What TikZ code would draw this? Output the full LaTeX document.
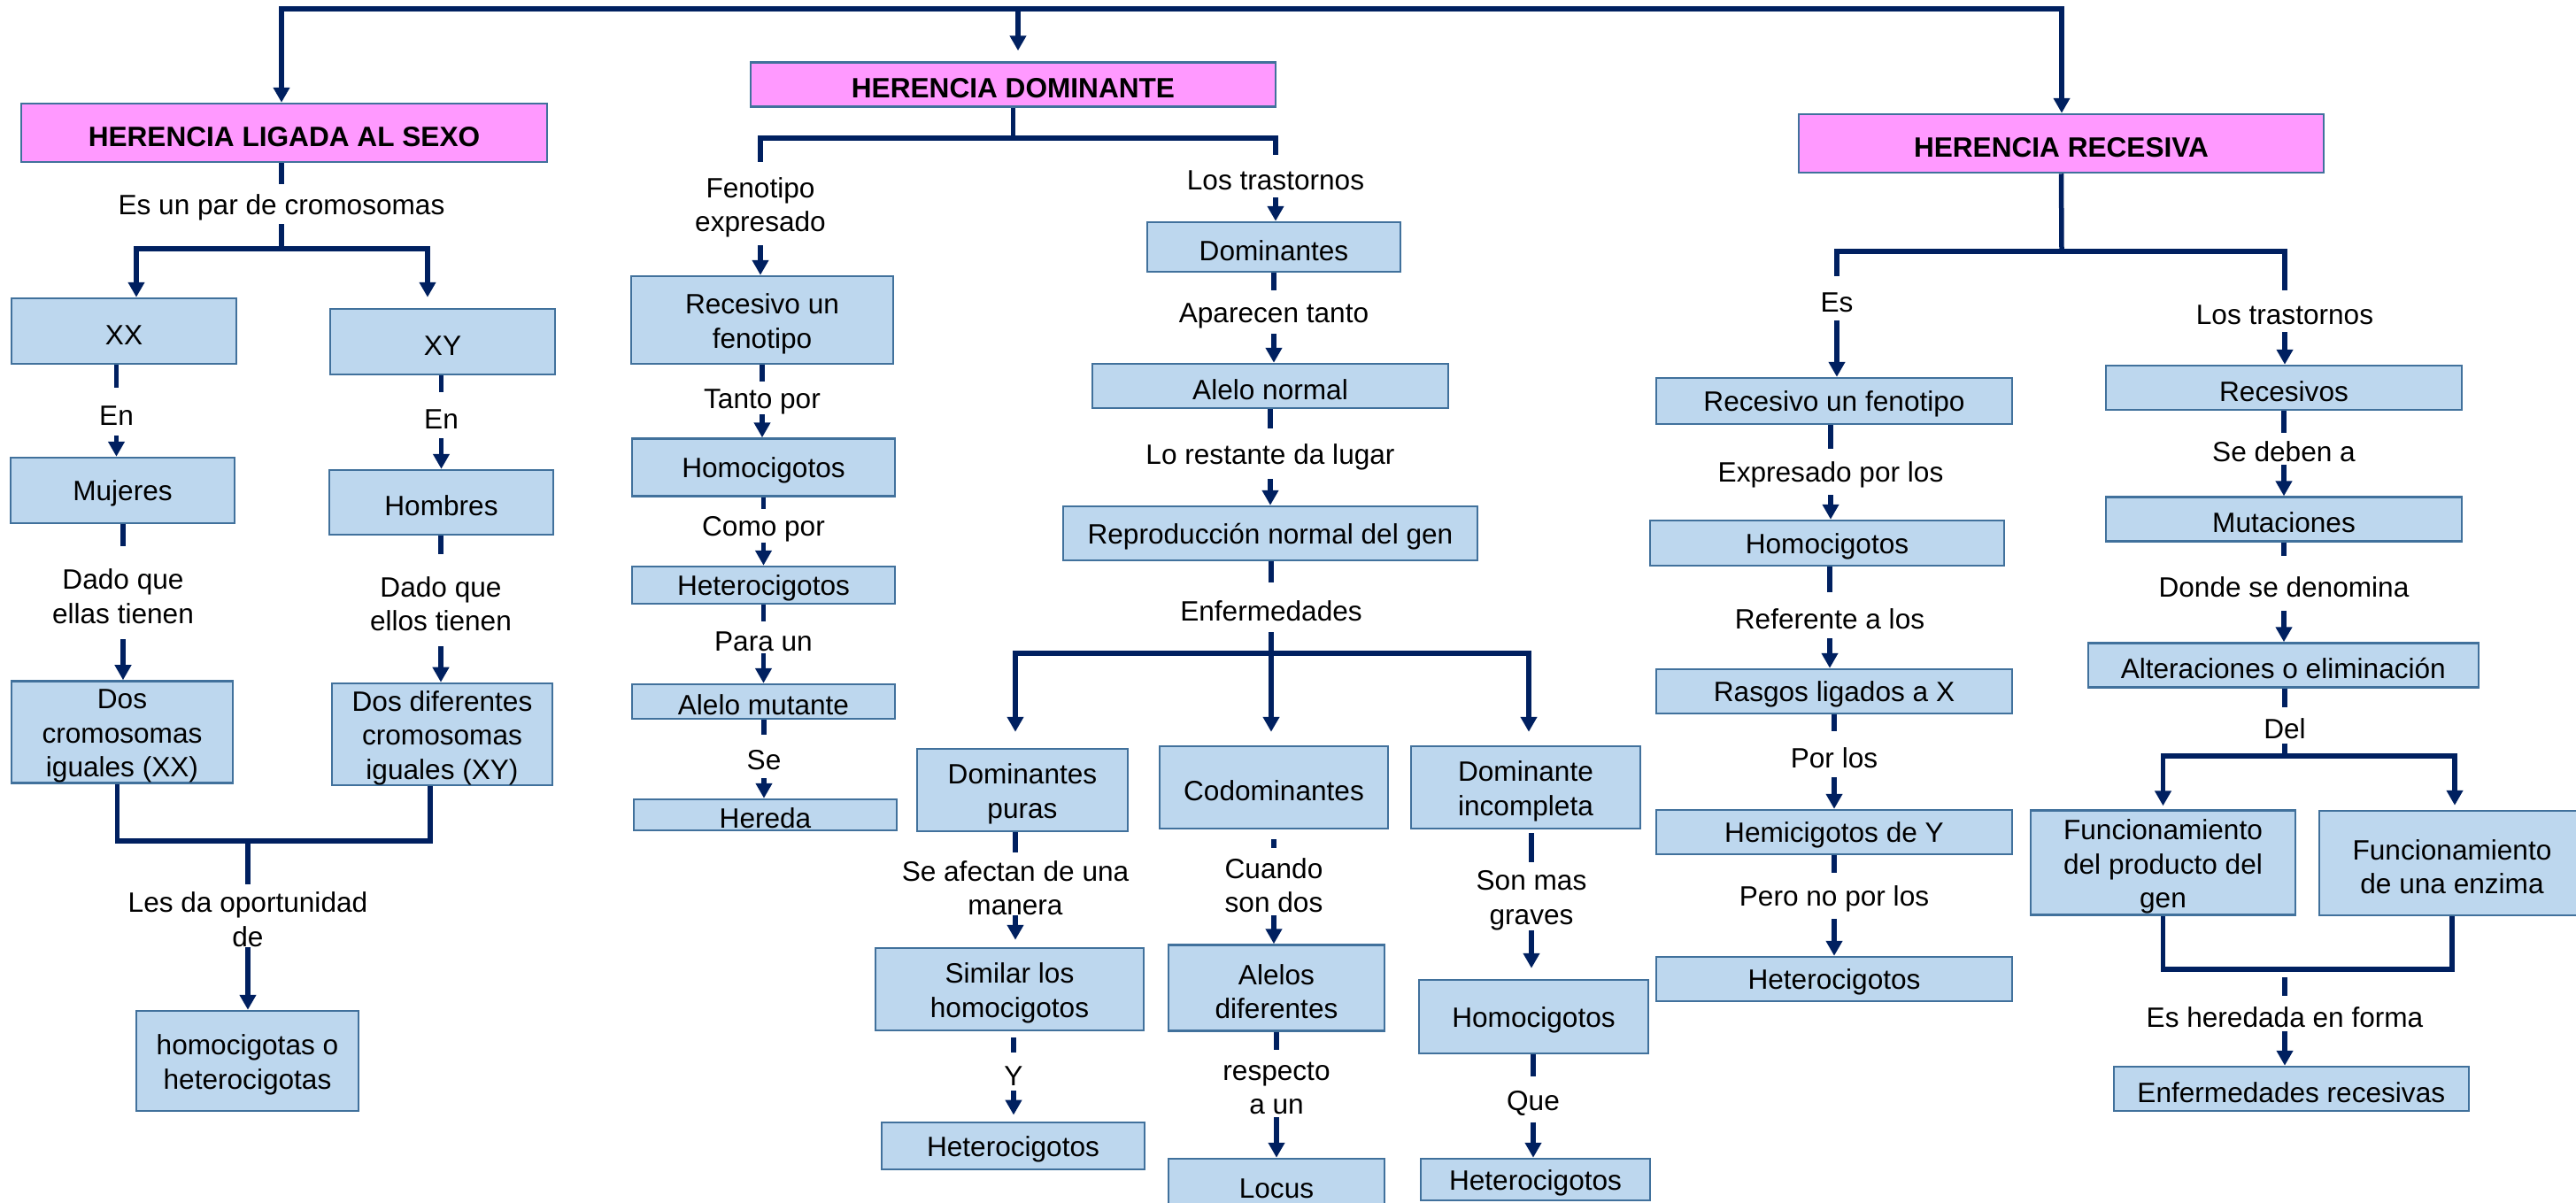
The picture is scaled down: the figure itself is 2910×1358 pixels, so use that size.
\documentclass[tikz,border=0pt]{standalone}
\usepackage{fontspec}
\setmainfont{Liberation Sans}
\usetikzlibrary{arrows.meta}
\definecolor{boxfill}{HTML}{BDD7EE}
\definecolor{boxline}{HTML}{41719C}
\definecolor{pinkfill}{HTML}{FF99FF}
\definecolor{navy}{HTML}{002060}
\newcommand\dgfont{\fontsize{31.6pt}{38.5pt}\selectfont}
\newcommand\dgstrut{\rule{0pt}{30.5pt}}
\newcommand\mlstrut{\rule{0pt}{31.5pt}}
\tikzset{
 box/.style={draw=boxline, fill=boxfill, line width=2.5pt, inner sep=0pt, align=center, font=\dgfont, execute at begin node=\dgstrut},
 titlebox/.style={box, fill=pinkfill, font=\dgfont\bfseries},
 lbl/.style={inner sep=0pt, align=center, font=\dgfont, execute at begin node=\dgstrut},
 conn/.style={draw=navy, line width=5.5pt},
 arr/.style={conn, -{Triangle[width=18pt,length=17pt]}},
}
% #1 upper box, #2 label, #3 lower box, #4 gap below upper box, #5 gap above lower box
\newcommand\chain[5]{%
 \draw[conn, shorten <=#4pt] (#2.north |- #1.south) -- (#2.north);
 \draw[arr, shorten >=#5pt] (#2.south) -- (#2.south |- #3.north);}
\begin{document}
\begin{tikzpicture}[x=1pt, y=-1pt]
\useasboundingbox (0,0) rectangle (2910,1358);
\fill[white] (0,0) rectangle (2910,1358);
\clip (0,0) rectangle (2910,1358);

% ---------------- boxes: left ----------------
\node[titlebox, minimum width=594pt, minimum height=66pt] (HLS) at (321,150) {HERENCIA LIGADA AL SEXO};
\node[box, minimum width=254pt, minimum height=74pt] (XX) at (140,374) {XX};
\node[box, minimum width=254pt, minimum height=74pt] (XY) at (500,386) {XY};
\node[box, minimum width=253pt, minimum height=74pt] (MUJ) at (138.5,554) {Mujeres};
\node[box, minimum width=253pt, minimum height=73pt] (HOM) at (498.5,567.5) {Hombres};
\node[box, minimum width=250pt, minimum height=112pt] (DXX) at (138,827) {\mlstrut Dos\\cromosomas\\iguales (XX)};
\node[box, minimum width=249pt, minimum height=113pt] (DXY) at (499.5,829.5) {\mlstrut Dos diferentes\\cromosomas\\iguales (XY)};
\node[box, minimum width=251pt, minimum height=113pt] (HH) at (279.5,1198.5) {\mlstrut homocigotas o\\heterocigotas};

\node[lbl, minimum height=45pt] (L1) at (318,230.5) {Es un par de cromosomas};
\node[lbl, minimum height=54pt] (L2) at (131.5,465) {En};
\node[lbl, minimum height=52pt] (L3) at (498.5,469) {En};
\node[lbl, minimum height=105pt] (L4) at (139,669.5) {\mlstrut Dado que\\ellas tienen};
\node[lbl, minimum height=104pt] (L5) at (498,678) {\mlstrut Dado que\\ellos tienen};
\node[lbl, minimum height=71pt] (L6) at (280,1034.5) {\mlstrut Les da oportunidad\\de};

% ---------------- boxes: middle ----------------
\node[titlebox, minimum width=593pt, minimum height=50pt] (HD) at (1144.5,95.5) {HERENCIA DOMINANTE};
\node[box, minimum width=296pt, minimum height=99pt] (RF1) at (861,361.5) {\mlstrut Recesivo un\\fenotipo};
\node[box, minimum width=297pt, minimum height=65pt] (HO1) at (862.5,528) {Homocigotos};
\node[box, minimum width=297pt, minimum height=42pt] (HE1) at (862.5,661) {Heterocigotos};
\node[box, minimum width=297pt, minimum height=39pt] (AM) at (862.5,792.5) {Alelo mutante};
\node[box, minimum width=297pt, minimum height=35pt] (HER) at (864.5,920.5) {Hereda};
\node[box, minimum width=286pt, minimum height=56pt] (DOM) at (1439,279) {Dominantes};
\node[box, minimum width=402pt, minimum height=50pt] (AN) at (1435,436) {Alelo normal};
\node[box, minimum width=468pt, minimum height=61pt] (REP) at (1435,602.5) {Reproducción normal del gen};
\node[box, minimum width=238pt, minimum height=93pt] (DP) at (1155,892.5) {\mlstrut Dominantes\\puras};
\node[box, minimum width=258pt, minimum height=93pt] (COD) at (1439,889.5) {Codominantes};
\node[box, minimum width=259pt, minimum height=93pt] (DI) at (1723.5,889.5) {\mlstrut Dominante\\incompleta};
\node[box, minimum width=303pt, minimum height=93pt] (SIM) at (1140.5,1117.5) {\mlstrut Similar los\\homocigotos};
\node[box, minimum width=297pt, minimum height=53pt] (HE2) at (1144.5,1294.3) {Heterocigotos};
\node[box, minimum width=244pt, minimum height=97pt] (AD) at (1442,1116) {\mlstrut Alelos\\diferentes};
\node[box, minimum width=244pt, minimum height=58pt] (LOC) at (1442,1338) {Locus};
\node[box, minimum width=259pt, minimum height=83pt] (HO3) at (1732.5,1148.5) {Homocigotos};
\node[box, minimum width=259pt, minimum height=47pt] (HE3) at (1734.5,1332.5) {Heterocigotos};

\node[lbl, minimum height=94pt] (M1) at (859,230) {\mlstrut Fenotipo\\expresado};
\node[lbl, minimum height=37pt] (M2) at (861,449.5) {Tanto por};
\node[lbl, minimum height=36pt] (M3) at (862.5,594) {Como por};
\node[lbl, minimum height=36pt] (M4) at (862.5,720) {Para un};
\node[lbl, minimum height=49pt] (M5) at (863,854.5) {Se};
\node[lbl, minimum height=48pt] (M6) at (1441,199) {Los trastornos};
\node[lbl, minimum height=49pt] (M7) at (1439,352.5) {Aparecen tanto};
\node[lbl, minimum height=57pt] (M8) at (1435,512.5) {Lo restante da lugar};
\node[lbl, minimum height=56.5pt] (M9) at (1436,686) {Enfermedades};
\node[lbl, minimum height=56.5pt] (M10) at (1147,998.75) {\mlstrut Se afectan de una\\manera};
\node[lbl, minimum height=42.5pt] (M11) at (1145,1210.75) {Y};
\node[lbl, minimum height=76pt] (M12) at (1439,996) {\mlstrut Cuando\\son dos};
\node[lbl, minimum height=76pt] (M13) at (1442,1224) {\mlstrut respecto\\a un};
\node[lbl, minimum height=77pt] (M14) at (1730,1012.5) {\mlstrut Son mas\\graves};
\node[lbl, minimum height=51pt] (M15) at (1732,1242) {Que};

% ---------------- boxes: right ----------------
\node[titlebox, minimum width=593pt, minimum height=66pt] (HR) at (2328.5,162) {HERENCIA RECESIVA};
\node[box, minimum width=402pt, minimum height=52pt] (RF2) at (2072,453) {Recesivo un fenotipo};
\node[box, minimum width=400pt, minimum height=51pt] (HO4) at (2064,613.5) {Homocigotos};
\node[box, minimum width=402pt, minimum height=50pt] (RAS) at (2072,781) {Rasgos ligados a X};
\node[box, minimum width=402pt, minimum height=50pt] (HEM) at (2072,940) {Hemicigotos de Y};
\node[box, minimum width=402pt, minimum height=50pt] (HE4) at (2072,1106) {Heterocigotos};
\node[box, minimum width=402pt, minimum height=50pt] (REC) at (2580,438) {Recesivos};
\node[box, minimum width=402pt, minimum height=50pt] (MUT) at (2580,586.6) {Mutaciones};
\node[box, minimum width=441pt, minimum height=50pt] (ALT) at (2579.3,751.5) {Alteraciones o eliminación};
\node[box, minimum width=299pt, minimum height=118pt] (FP) at (2443.5,974.6) {\mlstrut Funcionamiento\\del producto del\\gen};
\node[box, minimum width=300pt, minimum height=118pt] (FE) at (2770,975) {\mlstrut Funcionamiento\\de una enzima};
\node[box, minimum width=401pt, minimum height=50pt] (ER) at (2588.3,1230) {Enfermedades recesivas};

\node[lbl, minimum height=49pt] (R1) at (2075,337) {Es};
\node[lbl, minimum height=47pt] (R2) at (2581,351.5) {Los trastornos};
\node[lbl, minimum height=52pt] (R3) at (2068,533) {Expresado por los};
\node[lbl, minimum height=51.4pt] (R4) at (2067,695.3) {Referente a los};
\node[lbl, minimum height=52pt] (R5) at (2072,852) {Por los};
\node[lbl, minimum height=52pt] (R6) at (2072,1012) {Pero no por los};
\node[lbl, minimum height=36pt] (R7) at (2580,506.7) {Se deben a};
\node[lbl, minimum height=61pt] (R8) at (2580,659) {Donde se denomina};
\node[lbl, minimum height=40.6pt] (R9) at (2581,819.3) {Del};
\node[lbl, minimum height=39.7pt] (R10) at (2581,1145) {Es heredada en forma};

% ---------------- top bus ----------------
\coordinate (BL) at (318,10);
\coordinate (BM) at (1150,10);
\coordinate (BR) at (2329,10);
\draw[arr] (BR) -- (BL) -- (BL |- HLS.north);
\draw[arr] (BL) -- (BR) -- (BR |- HR.north);
\draw[arr, shorten >=12pt] (BM) -- (BM |- HD.north);

% ---------------- left connectors ----------------
\draw[conn] (L1.north |- HLS.south) -- (L1.north);
\coordinate (J1) at (318,281);
\draw[conn] (L1.south) -- (J1);
\coordinate (xxt) at ([xshift=14pt]XX.north);
\coordinate (xyt) at ([xshift=-17pt]XY.north);
\draw[arr] (J1) -| (xxt);
\draw[arr, shorten >=12pt] (J1) -| (xyt);
\chain{XX}{L2}{MUJ}{0}{0}
\chain{XY}{L3}{HOM}{0}{0}
\chain{MUJ}{L4}{DXX}{0}{0}
\chain{HOM}{L5}{DXY}{0}{0}
\coordinate (J2) at (280,950);
\coordinate (dxxb) at ([xshift=-5.5pt]DXX.south);
\coordinate (dxyb) at ([xshift=-13.5pt]DXY.south);
\draw[conn] (dxxb) |- (dxyb |- J2) -- (dxyb);
\draw[conn] (J2) -- (L6.north);
\draw[arr] (L6.south) -- (L6.south |- HH.north);

% ---------------- middle connectors ----------------
\coordinate (J3) at (1144.5,156);
\draw[conn] (HD.south) -- (J3);
\draw[conn] (J3) -| (M1.north);
\draw[conn] (J3) -| (M6.north);
\draw[arr] (M1.south) -- (M1.south |- RF1.north);
\draw[arr] (M6.south) -- (M6.south |- DOM.north);
\chain{RF1}{M2}{HO1}{0}{0}
\chain{HO1}{M3}{HE1}{0}{0}
\chain{HE1}{M4}{AM}{0}{0}
\chain{AM}{M5}{HER}{0}{0}
\chain{DOM}{M7}{AN}{0}{0}
\chain{AN}{M8}{REP}{0}{0}
\draw[conn] (M9.north |- REP.south) -- (M9.north);
\coordinate (J4) at (1436,738);
\draw[conn] (M9.south) -- (J4);
\coordinate (dpt) at ([xshift=-8pt]DP.north);
\coordinate (dit) at ([xshift=3.5pt]DI.north);
\draw[arr, shorten >=18pt] (J4) -| (dpt);
\draw[arr, shorten >=15pt] (J4) -- (J4 |- COD.north);
\draw[arr, shorten >=15pt] (J4) -| (dit);
\chain{DP}{M10}{SIM}{0}{8}
\chain{SIM}{M11}{HE2}{7}{7}
\chain{COD}{M12}{AD}{11}{0}
\chain{AD}{M13}{LOC}{0}{0}
\chain{DI}{M14}{HO3}{4}{12}
\chain{HO3}{M15}{HE3}{0}{0}

% ---------------- right connectors ----------------
\coordinate (J6) at (2329,284);
\draw[conn] (HR.south) -- (J6);
\draw[conn] (J6) -| (R1.north);
\draw[conn] (J6) -| (R2.north);
\draw[arr] (R1.south) -- (R1.south |- RF2.north);
\draw[arr] (R2.south) -- (R2.south |- REC.north);
\chain{RF2}{R3}{HO4}{0}{0}
\chain{HO4}{R4}{RAS}{0}{0}
\chain{RAS}{R5}{HEM}{0}{0}
\chain{HEM}{R6}{HE4}{0}{0}
\chain{REC}{R7}{MUT}{0}{0}
\chain{MUT}{R8}{ALT}{0}{0}
\draw[conn] (R9.north |- ALT.south) -- (R9.north);
\coordinate (J7) at (2581,854);
\draw[conn] (R9.south) -- (J7);
\coordinate (fet) at ([xshift=3pt]FE.north);
\draw[arr, shorten >=4pt] (J7) -| (FP.north);
\draw[arr, shorten >=5pt] (J7) -| (fet);
\coordinate (J8) at (2581,1095);
\draw[conn] (FP.south) |- (FE.south |- J8) -- (FE.south);
\coordinate (J8b) at (2581,1104);
\draw[conn] (J8b) -- (R10.north);
\draw[arr] (R10.south) -- (R10.south |- ER.north);
\end{tikzpicture}
\end{document}
